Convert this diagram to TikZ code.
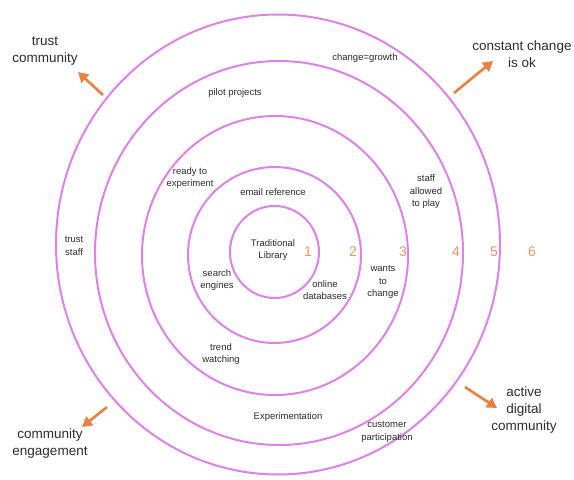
\documentclass[tikz,border=0pt]{standalone}
\usepackage{fontspec}
\setmainfont{Liberation Sans}
\usetikzlibrary{arrows.meta}
\definecolor{ringc}{RGB}{222,130,234}
\definecolor{orangec}{RGB}{236,128,64}
\definecolor{numc}{RGB}{232,150,100}
\definecolor{txtc}{RGB}{45,45,45}
\tikzset{
  ring/.style={draw=ringc, line width=2pt},
  lbl/.style={text=txtc, align=center, inner sep=0pt, font=\fontsize{9.5}{12.5}\selectfont},
  biglbl/.style={text=txtc, align=center, inner sep=0pt, font=\fontsize{13.5}{17}\selectfont},
  num/.style={text=numc, inner sep=0pt, font=\fontsize{14}{16}\selectfont},
  outarrow/.style={draw=orangec, line width=2.6pt, -{Triangle[length=10pt,width=11pt]}}
}
\begin{document}
\begin{tikzpicture}[x=1pt,y=-1pt]
\useasboundingbox (0,0) rectangle (574,480);
\fill[white] (0,0) rectangle (574,480);
% rings
\draw[ring] (274.5,252) ellipse [x radius=44.5pt, y radius=46pt];
\draw[ring] (274.5,255) ellipse [x radius=86.5pt, y radius=88pt];
\draw[ring] (275,255.5) ellipse [x radius=133pt, y radius=139.5pt];
\draw[ring] (279,253) ellipse [x radius=184pt, y radius=192pt];
\draw[ring] (278,244.5) ellipse [x radius=222pt, y radius=230pt];
% numbers
\node[num] (n1) at (308,252) {1};
\node[num] (n2) at (353,252) {2};
\node[num] (n3) at (403,252) {3};
\node[num] (n4) at (456,252) {4};
\node[num] (n5) at (494,252) {5};
\node[num] (n6) at (532,252) {6};
% inner labels
\node[lbl] (trad) at (273,250) {Traditional\\Library};
\node[lbl] (email) at (273,192) {email reference};
\node[lbl] (ready) at (190,178) {ready to\\experiment};
\node[lbl] (search) at (217,280) {search\\engines};
\node[lbl] (online) at (325,290) {online\\databases};
\node[lbl] (wants) at (383,282) {wants\\to\\change};
\node[lbl] (staff) at (426,192) {staff\\allowed\\to play};
\node[lbl] (pilot) at (235,93) {pilot projects};
\node[lbl] (change) at (365,58) {change=growth};
\node[lbl] (truststaff) at (74,246) {trust\\staff};
\node[lbl] (trend) at (221,354) {trend\\watching};
\node[lbl] (exper) at (288,417) {Experimentation};
\node[lbl] (cust) at (387,432) {customer\\participation};
% outer labels
\node[biglbl] (tcom) at (45,51) {trust\\community};
\node[biglbl] (cchange) at (522,54.5) {constant change\\is ok};
\node[biglbl] (ceng) at (50,443.5) {community\\engagement};
\node[biglbl] (adc) at (524,410) {active\\digital\\community};
% arrows
\coordinate (a1s) at (103,95);  \coordinate (a1e) at (78,72);
\coordinate (a2s) at (454,93);  \coordinate (a2e) at (493,61);
\coordinate (a3s) at (107,407); \coordinate (a3e) at (82,427);
\coordinate (a4s) at (465,387); \coordinate (a4e) at (497,408);
\draw[outarrow] (a1s) -- (a1e);
\draw[outarrow] (a2s) -- (a2e);
\draw[outarrow] (a3s) -- (a3e);
\draw[outarrow] (a4s) -- (a4e);
\end{tikzpicture}
\end{document}
